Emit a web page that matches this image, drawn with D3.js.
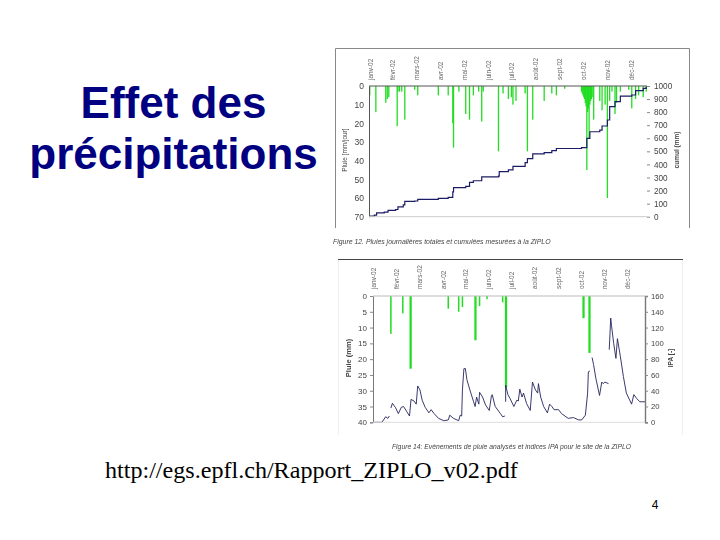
<!DOCTYPE html>
<html><head><meta charset="utf-8">
<script src="https://cdn.jsdelivr.net/npm/d3@7/dist/d3.min.js"></script>
<style>
html,body{margin:0;padding:0;background:#fff}
svg{display:block}
.fig{filter:blur(0.35px)}
.fig text{font-family:"Liberation Sans",Arial,sans-serif;fill:#444}
.fig .domain{stroke:none}
.fig .tick line{stroke:#888}
</style></head><body>
<svg id="s" width="720" height="540"></svg>
<script>
const titleLines = ["Effet des","précipitations"];
const sourceText = "http://egs.epfl.ch/Rapport_ZIPLO_v02.pdf";
const pageNumber = "4";
const months = ["janv-02","févr-02","mars-02","avr-02","mai-02","juin-02","juil-02","août-02","sept-02","oct-02","nov-02","déc-02"];
const monthLabelDays1 = [2,32,63,95,126,158,188,219,251,282,314,345];
const monthLabelDays2 = [2,32,63,95,125,155,186,218,249,280,311,342];
const caption1 = "Figure 12. Pluies journalières totales et cumulées mesurées à la ZIPLO";
const caption2 = "Figure 14: Evènements de pluie analysés et indices IPA pour le site de la ZIPLO";

const rainDays1 = [1,9,22,24,26,37,38,40,43,47,60,64,91,104,110,111,118,127,132,137,144,148,150,170,176,183,187,189,193,205,208,215,230,240,246,257,279,280,281,282,283,284,285,286,287,288,289,290,291,292,293,295,303,306,310,313,316,319,323,325,330,341,345,350,354,360,364];
const rainVals1 = [5,14,9,7,6,21.5,3,3,3,18,2,5,5,5,20,33,3,15,18,5,3,19,3,35,4,7,6,10,8,4,35,18,8,4,5,1.5,3,4,5,6,7,9,11,45,14,12,28,10,8,7,6,18,8,13,10,60,8,3,15,9,3,2,12,7,5,6,3];
const cumulDays = [0,7,10,20,25,35,38,45,47,60,64,91,104,110,111,127,132,137,148,170,171,183,189,205,208,215,230,240,246,279,286,290,303,306,313,316,323,330,345,350,360,364];
const cumulVals = [5,12,30,35,48,55,75,90,117,120,133,140,148,190,222,232,262,275,305,311,345,358,385,413,445,480,490,505,522,528,600,650,663,694,740,842,880,923,931,964,982,995];
const rainTicks1 = [0,10,20,30,40,50,60,70];
const cumulTicks = [0,100,200,300,400,500,600,700,800,900,1000];

const rainDays2 = [24,40,50,51,101,115,120,137,138,143,153,174,178,179,282,283,290,291];
const rainVals2 = [12,5.5,23,23,4,5,3.5,14,14,3.2,1,2,29,29,7,7,18,18];
const ipaDays = [0,12,17,20,22,null,24,26,30,34,38,41,45,49,51,55,58,60,63,66,70,75,78,82,88,95,101,103,108,115,117,119,120,122,124,126,130,135,137,139,142,143,147,151,156,159,160,164,171,174,177,null,178,178,181,184,189,193,195,197,200,202,206,211,214,218,221,222,225,229,234,237,240,243,249,253,262,269,276,280,285,288,289,291,null,294,296,299,304,307,309,311,316,null,317,319,320,323,326,328,332,336,340,347,350,354,358,365];
const ipaVals = [0,0,7,5,8,null,18,24,19,11,19,20,14,8,29,27,23,46,41,28,19,12,16,11,5,2,3,9,5,2,9,8,41,68,68,54,41,26,20,32,23,38,32,22,15,34,35,20,11,7,8,null,26,47,35,30,20,28,27,42,32,37,24,15,51,41,37,49,32,20,12,23,20,16,16,11,5,6,3,3,9,37,64,65,null,82,73,56,34,51,49,51,49,null,92,132,123,100,81,106,83,58,37,23,35,30,26,26];
const rainTicks2 = [0,5,10,15,20,25,30,35,40];
const ipaTicks = [0,20,40,60,80,100,120,140,160];

const svg = d3.select("#s");
const navy = "#000080";
const title = svg.append("g").attr("font-family","'Liberation Sans',Arial,sans-serif")
  .attr("font-weight","bold").attr("font-size",44).attr("fill",navy).attr("text-anchor","middle");
titleLines.forEach((t,i)=>title.append("text").attr("x",173.5).attr("y",118+i*51).text(t));
svg.append("text").attr("x",105).attr("y",478).attr("font-family","'Liberation Serif','Times New Roman',serif").attr("font-size",24.1).attr("fill","#000").text(sourceText);
svg.append("text").attr("x",655).attr("y",509).attr("text-anchor","middle").attr("font-family","'Liberation Sans',Arial,sans-serif").attr("font-size",12).attr("fill","#000").text(pageNumber);

function panel(o){
  const g = svg.append("g").attr("class","fig");
  const x = d3.scaleLinear().domain([0,365]).range(o.xr);
  const yL = d3.scaleLinear().domain([0,o.rainMax]).range(o.yr);
  const yR = d3.scaleLinear().domain([0,o.rightMax]).range([o.yr[1],o.yr[0]]);
  g.append("path").attr("d",o.frame).attr("fill","none").attr("stroke",o.frameColor).attr("stroke-width",1);
  if(o.frame2) g.append("path").attr("d",o.frame2).attr("fill","none").attr("stroke",o.frame2Color).attr("stroke-width",1);
  g.append("g").selectAll("rect").data(o.rainDays).join("rect")
    .attr("x",d=>x(d)-o.barW/2).attr("y",o.yr[0]).attr("width",o.barW)
    .attr("height",(d,i)=>yL(o.rainVals[i])-o.yr[0]).attr("fill","#22dd22");
  const pts = o.lineDays.map((d,i)=>[d,o.lineVals[i]]);
  g.append("path").datum(pts).attr("fill","none").attr("stroke",o.lineColor).attr("stroke-width",o.lineW)
    .attr("d",d3.line().defined(d=>d[0]!==null).x(d=>x(d[0])).y(d=>yR(d[1])).curve(o.curve));
  const la = g.append("g").attr("transform",`translate(${o.xr[0]},0)`)
    .call(d3.axisLeft(yL).tickValues(o.leftTicks).tickSize(o.leftTick).tickPadding(o.leftPad));
  la.selectAll("text").attr("font-size",o.fs);
  la.select(".domain").style("stroke",o.axisColor).attr("stroke-width",1);
  const ra = g.append("g").attr("transform",`translate(${o.xr[1]},0)`)
    .call(d3.axisRight(yR).tickValues(o.rightTicks).tickFormat(d3.format("d")).tickSize(o.rightTick).tickPadding(o.rightPad));
  ra.selectAll("text").attr("font-size",o.fs-0.3);
  if(o.rightLine) ra.select(".domain").style("stroke",o.axisColor).attr("stroke-width",1.4);
  g.append("line").attr("x1",o.xr[0]).attr("x2",o.xr[1]).attr("y1",o.yr[0]).attr("y2",o.yr[0]).attr("stroke",o.topColor).attr("stroke-width",1);
  g.append("line").attr("x1",o.xr[0]).attr("x2",o.xr[1]).attr("y1",o.yr[1]).attr("y2",o.yr[1]).attr("stroke",o.bottomColor);
  g.append("g").selectAll("text").data(months).join("text")
    .attr("transform",(d,i)=>`translate(${x(o.monthDays[i])+2},${o.mY}) rotate(-90)`)
    .attr("font-size",6.5).style("fill","#666").text(d=>d);
  g.append("text").attr("transform",`translate(${o.lx},${o.ly}) rotate(-90)`).attr("text-anchor","middle")
    .attr("font-size",o.lfs).attr("font-weight",o.lw).text(o.lLabel);
  g.append("text").attr("transform",`translate(${o.rx},${o.ry}) rotate(-90)`).attr("text-anchor","middle")
    .attr("font-size",6.5).attr("font-weight",o.rw).text(o.rLabel);
  g.append("text").attr("x",o.cx).attr("y",o.cy).attr("font-size",o.cfs).attr("font-style","italic").text(o.caption);
}

panel({xr:[369,647],yr:[86,216.7],rainMax:70,rightMax:1000,rainDays:rainDays1,rainVals:rainVals1,barW:1.3,
  lineDays:cumulDays,lineVals:cumulVals,lineColor:"#1c1c66",lineW:1.2,curve:d3.curveStepAfter,
  leftTicks:rainTicks1,rightTicks:cumulTicks,leftTick:0,leftPad:5,rightTick:3,rightPad:4,rightLine:false,fs:8.5,
  axisColor:"#555",topColor:"#555",bottomColor:"#ccc",frame:"M335.5,228V48.5H689.5V228",frameColor:"#888",
  monthDays:monthLabelDays1,mY:80,lx:347,ly:150,lfs:6.5,lw:"normal",lLabel:"Pluie [mm/jour]",rx:679,ry:150,rw:"bold",rLabel:"cumul (mm)",
  cx:333,cy:244,cfs:6.9,caption:caption1});
panel({xr:[373,645],yr:[296,422.3],rainMax:40,rightMax:160,rainDays:rainDays2,rainVals:rainVals2,barW:1.5,
  lineDays:ipaDays,lineVals:ipaVals,lineColor:"#24245e",lineW:0.9,curve:d3.curveLinear,
  leftTicks:rainTicks2,rightTicks:ipaTicks,leftTick:3,leftPad:3,rightTick:3,rightPad:3,rightLine:true,fs:8,
  axisColor:"#777",topColor:"#bbb",bottomColor:"#ddd",frame:"M338,259.5H683",frameColor:"#444",frame2:"M682.5,260V435M338.5,260V435",frame2Color:"#eee",
  monthDays:monthLabelDays2,mY:289,lx:351,ly:358,lfs:7.5,lw:"bold",lLabel:"Pluie (mm)",rx:673,ry:358,rw:"bold",rLabel:"IPA [-]",
  cx:392,cy:449,cfs:6.75,caption:caption2});
</script></body></html>
